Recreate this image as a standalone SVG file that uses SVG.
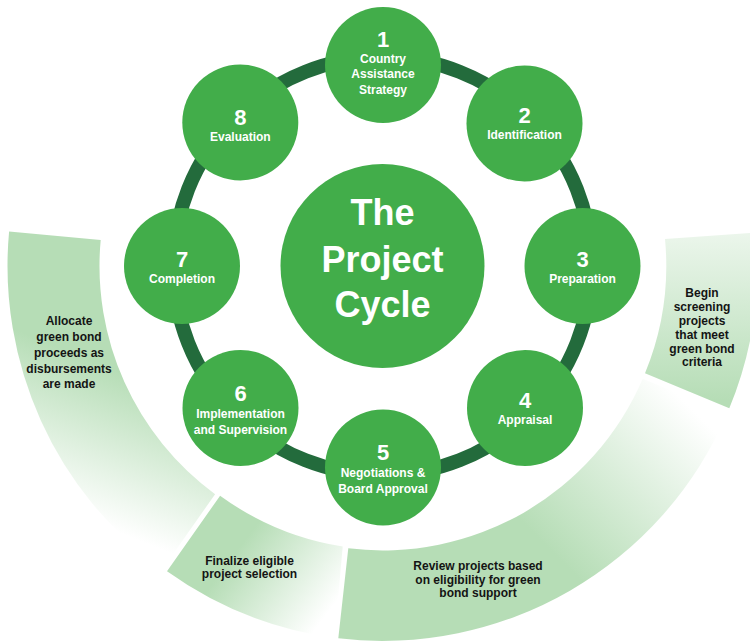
<svg xmlns="http://www.w3.org/2000/svg" width="750" height="641" viewBox="0 0 750 641">
<defs>
<style>
.band-txt{font-family:"Liberation Sans",Arial,sans-serif;font-weight:bold;font-size:12px;fill:#141414;text-anchor:middle}
.node{fill:#42ad4a}
.num{font-family:"Liberation Sans",Arial,sans-serif;font-weight:bold;font-size:22px;fill:#fff;text-anchor:middle}
.lbl{font-family:"Liberation Sans",Arial,sans-serif;font-weight:bold;font-size:12px;fill:#fff;text-anchor:middle}
.title{font-family:"Liberation Sans",Arial,sans-serif;font-weight:bold;font-size:36px;fill:#fff;text-anchor:middle}
</style>
<linearGradient id="gLeft" gradientUnits="userSpaceOnUse" x1="228.8" y1="415.1" x2="173" y2="554.3">
<stop offset="0" stop-color="#b6ddb6"/>
<stop offset="1" stop-color="#ffffff"/>
</linearGradient>
<linearGradient id="gFinal" gradientUnits="userSpaceOnUse" x1="416" y1="312" x2="504" y2="378">
<stop offset="0" stop-color="#b6ddb6"/>
<stop offset="1" stop-color="#ffffff"/>
</linearGradient>
<linearGradient id="gReview" gradientUnits="userSpaceOnUse" x1="0" y1="0" x2="141.4" y2="-141.4">
<stop offset="0" stop-color="#b6ddb6"/>
<stop offset="1" stop-color="#ffffff"/>
</linearGradient>
<linearGradient id="gRight" gradientUnits="userSpaceOnUse" x1="0" y1="225" x2="0" y2="400">
<stop offset="0" stop-color="#eef7ee"/>
<stop offset="1" stop-color="#b6ddb6"/>
</linearGradient>
</defs>
<rect width="750" height="641" fill="#ffffff"/>

<g id="band-allocate">
<path d="M9.1,231.4 A375,375 0 0 0 162.2,569.4 L215.1,494.2 A283,283 0 0 1 100.7,239.9 Z" fill="url(#gLeft)"/>
<text class="band-txt" x="69" y="325">Allocate</text>
<text class="band-txt" x="69" y="341">green bond</text>
<text class="band-txt" x="69" y="357">proceeds as</text>
<text class="band-txt" x="69" y="372.5">disbursements</text>
<text class="band-txt" x="69" y="388">are made</text>
</g>

<g id="band-finalize">
<path d="M220.1,495.7 L167,571.3 A375,375 0 0 0 334.6,638 L342.7,546.6 A283,283 0 0 1 220.1,495.7 Z" fill="url(#gFinal)"/>
<text class="band-txt" x="249.5" y="565">Finalize eligible</text>
<text class="band-txt" x="249.5" y="578">project selection</text>
</g>

<g id="band-review">
<path d="M348.3,548.3 L338.3,638.3 A375,375 0 0 0 727,413.8 L642.7,378.8 A283,283 0 0 1 348.3,548.3 Z" fill="url(#gReview)"/>
<text class="band-txt" x="478" y="570">Review projects based</text>
<text class="band-txt" x="478" y="583.5">on eligibility for green</text>
<text class="band-txt" x="478" y="597">bond support</text>
</g>

<g id="band-screening">
<path d="M665,239 L756,232.6 A375,375 0 0 1 729.3,408.3 L645,373.3 A283,283 0 0 0 665,239 Z" fill="url(#gRight)"/>
<text class="band-txt" x="702" y="297">Begin</text>
<text class="band-txt" x="702" y="311">screening</text>
<text class="band-txt" x="702" y="325">projects</text>
<text class="band-txt" x="702" y="339">that meet</text>
<text class="band-txt" x="702" y="352.5">green bond</text>
<text class="band-txt" x="702" y="366">criteria</text>
</g>

<g id="connectors">
<circle cx="382.5" cy="266" r="209" fill="none" stroke="#236b3c" stroke-width="14"/>
</g>

<g id="center">
<circle class="node" cx="382.5" cy="266" r="102"/>
<text class="title" x="382.5" y="225">The</text>
<text class="title" x="382.5" y="271.5">Project</text>
<text class="title" x="382.5" y="317">Cycle</text>
</g>

<g id="node1">
<circle class="node" cx="383" cy="65" r="58"/>
<text class="num" x="383" y="47">1</text>
<text class="lbl" x="383" y="62.5">Country</text>
<text class="lbl" x="383" y="78">Assistance</text>
<text class="lbl" x="383" y="94">Strategy</text>
</g>

<g id="node2">
<circle class="node" cx="524.5" cy="123.5" r="58"/>
<text class="num" x="524.5" y="123">2</text>
<text class="lbl" x="524.5" y="139">Identification</text>
</g>

<g id="node3">
<circle class="node" cx="582.5" cy="266" r="58"/>
<text class="num" x="582.5" y="267">3</text>
<text class="lbl" x="582.5" y="283">Preparation</text>
</g>

<g id="node4">
<circle class="node" cx="525" cy="408" r="58"/>
<text class="num" x="525" y="408">4</text>
<text class="lbl" x="525" y="424">Appraisal</text>
</g>

<g id="node5">
<circle class="node" cx="383" cy="467.5" r="58"/>
<text class="num" x="383" y="460">5</text>
<text class="lbl" x="383" y="477">Negotiations &amp;</text>
<text class="lbl" x="383" y="493">Board Approval</text>
</g>

<g id="node6">
<circle class="node" cx="240.5" cy="408" r="58"/>
<text class="num" x="240.5" y="401">6</text>
<text class="lbl" x="240.5" y="418">Implementation</text>
<text class="lbl" x="240.5" y="434">and Supervision</text>
</g>

<g id="node7">
<circle class="node" cx="182" cy="266" r="58"/>
<text class="num" x="182" y="267">7</text>
<text class="lbl" x="182" y="283">Completion</text>
</g>

<g id="node8">
<circle class="node" cx="240.3" cy="122.5" r="58"/>
<text class="num" x="240.3" y="125">8</text>
<text class="lbl" x="240.3" y="141">Evaluation</text>
</g>
</svg>
